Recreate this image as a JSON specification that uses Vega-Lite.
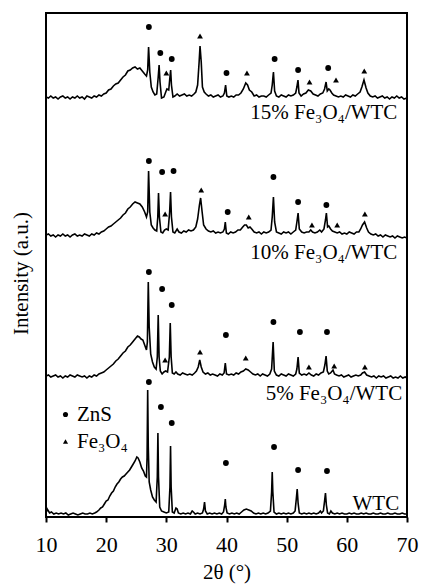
{
  "$schema": "https://vega.github.io/schema/vega-lite/v6.json",
  "width": 361,
  "height": 504,
  "autosize": {"type": "none"},
  "padding": {"left": 46, "top": 13, "right": 15, "bottom": 68},
  "background": "white",
  "config": {
    "font": "Liberation Serif, Times New Roman, serif",
    "view": {"stroke": "black", "strokeWidth": 2},
    "axis": {"grid": false, "labelFont": "Liberation Serif, Times New Roman, serif", "titleFont": "Liberation Serif, Times New Roman, serif", "titleFontWeight": "normal", "labelColor": "black", "titleColor": "black"},
    "legend": {"labelFont": "Liberation Serif, Times New Roman, serif"}
  },
  "datasets": {
    "traces": [
      {"s":"15","x":10.0,"y":420},{"s":"15","x":10.4,"y":419},{"s":"15","x":10.8,"y":421},{"s":"15","x":11.2,"y":419},{"s":"15","x":11.6,"y":420},{"s":"15","x":12.0,"y":418},{"s":"15","x":12.4,"y":420},{"s":"15","x":12.8,"y":421},{"s":"15","x":13.2,"y":419},{"s":"15","x":13.6,"y":420},{"s":"15","x":14.0,"y":418},{"s":"15","x":14.4,"y":420},{"s":"15","x":14.8,"y":419},{"s":"15","x":15.2,"y":421},{"s":"15","x":15.6,"y":419},{"s":"15","x":16.0,"y":420},{"s":"15","x":16.4,"y":418},{"s":"15","x":16.8,"y":421},{"s":"15","x":17.2,"y":420},{"s":"15","x":17.6,"y":419},{"s":"15","x":18.0,"y":421},{"s":"15","x":18.4,"y":420},{"s":"15","x":18.8,"y":422},{"s":"15","x":19.2,"y":421},{"s":"15","x":19.6,"y":423},{"s":"15","x":20.0,"y":424},{"s":"15","x":20.4,"y":427},{"s":"15","x":20.8,"y":428},{"s":"15","x":21.2,"y":431},{"s":"15","x":21.6,"y":433},{"s":"15","x":22.0,"y":434},{"s":"15","x":22.4,"y":437},{"s":"15","x":22.8,"y":440},{"s":"15","x":23.2,"y":442},{"s":"15","x":23.6,"y":446},{"s":"15","x":24.0,"y":447},{"s":"15","x":24.4,"y":449},{"s":"15","x":24.8,"y":450},{"s":"15","x":25.2,"y":448},{"s":"15","x":25.6,"y":449},{"s":"15","x":26.0,"y":446},{"s":"15","x":26.4,"y":443},{"s":"15","x":26.7,"y":441},{"s":"15","x":26.9,"y":447},{"s":"15","x":27.05,"y":470},{"s":"15","x":27.25,"y":445},{"s":"15","x":27.5,"y":430},{"s":"15","x":27.8,"y":425},{"s":"15","x":28.1,"y":422},{"s":"15","x":28.4,"y":423},{"s":"15","x":28.65,"y":440},{"s":"15","x":28.8,"y":452},{"s":"15","x":28.95,"y":435},{"s":"15","x":29.2,"y":419},{"s":"15","x":29.6,"y":420},{"s":"15","x":29.9,"y":425},{"s":"15","x":30.1,"y":428},{"s":"15","x":30.4,"y":427},{"s":"15","x":30.6,"y":440},{"s":"15","x":30.72,"y":447},{"s":"15","x":30.85,"y":432},{"s":"15","x":31.1,"y":420},{"s":"15","x":31.4,"y":421},{"s":"15","x":31.8,"y":423},{"s":"15","x":32.2,"y":421},{"s":"15","x":32.6,"y":422},{"s":"15","x":33.0,"y":423},{"s":"15","x":33.4,"y":421},{"s":"15","x":33.8,"y":422},{"s":"15","x":34.2,"y":421},{"s":"15","x":34.6,"y":423},{"s":"15","x":34.9,"y":425},{"s":"15","x":35.2,"y":432},{"s":"15","x":35.45,"y":455},{"s":"15","x":35.6,"y":471},{"s":"15","x":35.8,"y":455},{"s":"15","x":36.0,"y":430},{"s":"15","x":36.3,"y":425},{"s":"15","x":36.6,"y":423},{"s":"15","x":37.0,"y":421},{"s":"15","x":37.4,"y":422},{"s":"15","x":37.8,"y":420},{"s":"15","x":38.2,"y":421},{"s":"15","x":38.6,"y":422},{"s":"15","x":39.0,"y":420},{"s":"15","x":39.4,"y":421},{"s":"15","x":39.65,"y":424},{"s":"15","x":39.85,"y":432},{"s":"15","x":40.05,"y":421},{"s":"15","x":40.4,"y":420},{"s":"15","x":40.8,"y":421},{"s":"15","x":41.2,"y":420},{"s":"15","x":41.6,"y":422},{"s":"15","x":42.0,"y":422},{"s":"15","x":42.4,"y":424},{"s":"15","x":42.8,"y":428},{"s":"15","x":43.2,"y":434},{"s":"15","x":43.5,"y":432},{"s":"15","x":43.8,"y":427},{"s":"15","x":44.2,"y":425},{"s":"15","x":44.6,"y":421},{"s":"15","x":45.0,"y":422},{"s":"15","x":45.4,"y":420},{"s":"15","x":45.8,"y":421},{"s":"15","x":46.2,"y":421},{"s":"15","x":46.6,"y":420},{"s":"15","x":47.0,"y":422},{"s":"15","x":47.4,"y":424},{"s":"15","x":47.6,"y":432},{"s":"15","x":47.8,"y":445},{"s":"15","x":48.0,"y":426},{"s":"15","x":48.3,"y":421},{"s":"15","x":48.7,"y":420},{"s":"15","x":49.1,"y":422},{"s":"15","x":49.5,"y":421},{"s":"15","x":49.9,"y":420},{"s":"15","x":50.3,"y":422},{"s":"15","x":50.7,"y":421},{"s":"15","x":51.1,"y":422},{"s":"15","x":51.5,"y":424},{"s":"15","x":51.7,"y":430},{"s":"15","x":51.88,"y":437},{"s":"15","x":52.05,"y":424},{"s":"15","x":52.4,"y":421},{"s":"15","x":52.8,"y":423},{"s":"15","x":53.2,"y":424},{"s":"15","x":53.6,"y":427},{"s":"15","x":54.0,"y":426},{"s":"15","x":54.4,"y":423},{"s":"15","x":54.8,"y":422},{"s":"15","x":55.2,"y":421},{"s":"15","x":55.6,"y":423},{"s":"15","x":56.0,"y":424},{"s":"15","x":56.3,"y":428},{"s":"15","x":56.55,"y":435},{"s":"15","x":56.75,"y":426},{"s":"15","x":57.0,"y":428},{"s":"15","x":57.2,"y":427},{"s":"15","x":57.5,"y":424},{"s":"15","x":57.8,"y":422},{"s":"15","x":58.2,"y":421},{"s":"15","x":58.6,"y":420},{"s":"15","x":59.0,"y":421},{"s":"15","x":59.4,"y":420},{"s":"15","x":59.8,"y":422},{"s":"15","x":60.2,"y":421},{"s":"15","x":60.6,"y":420},{"s":"15","x":61.0,"y":422},{"s":"15","x":61.4,"y":421},{"s":"15","x":61.8,"y":423},{"s":"15","x":62.2,"y":425},{"s":"15","x":62.5,"y":430},{"s":"15","x":62.85,"y":437},{"s":"15","x":63.2,"y":429},{"s":"15","x":63.5,"y":424},{"s":"15","x":63.9,"y":421},{"s":"15","x":64.3,"y":420},{"s":"15","x":64.7,"y":421},{"s":"15","x":65.1,"y":419},{"s":"15","x":65.5,"y":420},{"s":"15","x":65.9,"y":421},{"s":"15","x":66.3,"y":419},{"s":"15","x":66.7,"y":420},{"s":"15","x":67.1,"y":418},{"s":"15","x":67.5,"y":420},{"s":"15","x":67.9,"y":419},{"s":"15","x":68.3,"y":421},{"s":"15","x":68.7,"y":419},{"s":"15","x":69.1,"y":420},{"s":"15","x":69.5,"y":418},{"s":"15","x":70.0,"y":419},

      {"s":"10","x":10.0,"y":282},{"s":"10","x":10.4,"y":283},{"s":"10","x":10.8,"y":281},{"s":"10","x":11.2,"y":282},{"s":"10","x":11.6,"y":280},{"s":"10","x":12.0,"y":282},{"s":"10","x":12.4,"y":281},{"s":"10","x":12.8,"y":283},{"s":"10","x":13.2,"y":281},{"s":"10","x":13.6,"y":282},{"s":"10","x":14.0,"y":280},{"s":"10","x":14.4,"y":282},{"s":"10","x":14.8,"y":283},{"s":"10","x":15.2,"y":281},{"s":"10","x":15.6,"y":282},{"s":"10","x":16.0,"y":281},{"s":"10","x":16.4,"y":283},{"s":"10","x":16.8,"y":282},{"s":"10","x":17.2,"y":281},{"s":"10","x":17.6,"y":283},{"s":"10","x":18.0,"y":282},{"s":"10","x":18.4,"y":284},{"s":"10","x":18.8,"y":283},{"s":"10","x":19.2,"y":285},{"s":"10","x":19.6,"y":286},{"s":"10","x":20.0,"y":288},{"s":"10","x":20.4,"y":290},{"s":"10","x":20.8,"y":291},{"s":"10","x":21.2,"y":293},{"s":"10","x":21.6,"y":295},{"s":"10","x":22.0,"y":297},{"s":"10","x":22.4,"y":299},{"s":"10","x":22.8,"y":302},{"s":"10","x":23.2,"y":304},{"s":"10","x":23.6,"y":308},{"s":"10","x":24.0,"y":310},{"s":"10","x":24.4,"y":313},{"s":"10","x":24.8,"y":315},{"s":"10","x":25.2,"y":314},{"s":"10","x":25.6,"y":313},{"s":"10","x":26.0,"y":310},{"s":"10","x":26.4,"y":305},{"s":"10","x":26.7,"y":300},{"s":"10","x":26.9,"y":305},{"s":"10","x":27.05,"y":346},{"s":"10","x":27.25,"y":305},{"s":"10","x":27.5,"y":292},{"s":"10","x":27.8,"y":289},{"s":"10","x":28.1,"y":287},{"s":"10","x":28.4,"y":286},{"s":"10","x":28.58,"y":300},{"s":"10","x":28.7,"y":324},{"s":"10","x":28.85,"y":300},{"s":"10","x":29.1,"y":285},{"s":"10","x":29.4,"y":284},{"s":"10","x":29.7,"y":287},{"s":"10","x":30.0,"y":288},{"s":"10","x":30.3,"y":287},{"s":"10","x":30.55,"y":305},{"s":"10","x":30.7,"y":325},{"s":"10","x":30.85,"y":300},{"s":"10","x":31.1,"y":285},{"s":"10","x":31.4,"y":284},{"s":"10","x":31.8,"y":288},{"s":"10","x":32.1,"y":285},{"s":"10","x":32.5,"y":284},{"s":"10","x":32.9,"y":286},{"s":"10","x":33.3,"y":285},{"s":"10","x":33.7,"y":287},{"s":"10","x":34.1,"y":286},{"s":"10","x":34.5,"y":287},{"s":"10","x":34.9,"y":290},{"s":"10","x":35.2,"y":298},{"s":"10","x":35.5,"y":312},{"s":"10","x":35.7,"y":319},{"s":"10","x":35.95,"y":305},{"s":"10","x":36.2,"y":292},{"s":"10","x":36.6,"y":288},{"s":"10","x":37.0,"y":286},{"s":"10","x":37.4,"y":285},{"s":"10","x":37.8,"y":286},{"s":"10","x":38.2,"y":284},{"s":"10","x":38.6,"y":285},{"s":"10","x":39.0,"y":284},{"s":"10","x":39.4,"y":285},{"s":"10","x":39.65,"y":288},{"s":"10","x":39.8,"y":295},{"s":"10","x":39.98,"y":284},{"s":"10","x":40.3,"y":283},{"s":"10","x":40.7,"y":285},{"s":"10","x":41.1,"y":284},{"s":"10","x":41.5,"y":285},{"s":"10","x":41.9,"y":287},{"s":"10","x":42.3,"y":287},{"s":"10","x":42.7,"y":290},{"s":"10","x":43.0,"y":292},{"s":"10","x":43.3,"y":292},{"s":"10","x":43.6,"y":289},{"s":"10","x":43.9,"y":290},{"s":"10","x":44.2,"y":288},{"s":"10","x":44.6,"y":285},{"s":"10","x":45.0,"y":284},{"s":"10","x":45.4,"y":285},{"s":"10","x":45.8,"y":283},{"s":"10","x":46.2,"y":285},{"s":"10","x":46.6,"y":284},{"s":"10","x":47.0,"y":285},{"s":"10","x":47.4,"y":287},{"s":"10","x":47.6,"y":300},{"s":"10","x":47.8,"y":320},{"s":"10","x":48.0,"y":295},{"s":"10","x":48.3,"y":285},{"s":"10","x":48.7,"y":284},{"s":"10","x":49.1,"y":283},{"s":"10","x":49.5,"y":285},{"s":"10","x":49.9,"y":284},{"s":"10","x":50.3,"y":285},{"s":"10","x":50.7,"y":283},{"s":"10","x":51.1,"y":285},{"s":"10","x":51.5,"y":287},{"s":"10","x":51.7,"y":295},{"s":"10","x":51.9,"y":304},{"s":"10","x":52.1,"y":288},{"s":"10","x":52.5,"y":285},{"s":"10","x":52.9,"y":284},{"s":"10","x":53.3,"y":285},{"s":"10","x":53.7,"y":285},{"s":"10","x":54.0,"y":287},{"s":"10","x":54.3,"y":285},{"s":"10","x":54.7,"y":284},{"s":"10","x":55.1,"y":285},{"s":"10","x":55.5,"y":287},{"s":"10","x":55.8,"y":285},{"s":"10","x":56.2,"y":288},{"s":"10","x":56.45,"y":297},{"s":"10","x":56.6,"y":304},{"s":"10","x":56.8,"y":290},{"s":"10","x":57.0,"y":291},{"s":"10","x":57.3,"y":288},{"s":"10","x":57.6,"y":286},{"s":"10","x":58.0,"y":285},{"s":"10","x":58.4,"y":284},{"s":"10","x":58.8,"y":285},{"s":"10","x":59.2,"y":283},{"s":"10","x":59.6,"y":284},{"s":"10","x":60.0,"y":283},{"s":"10","x":60.4,"y":285},{"s":"10","x":60.8,"y":284},{"s":"10","x":61.2,"y":283},{"s":"10","x":61.6,"y":285},{"s":"10","x":62.0,"y":285},{"s":"10","x":62.3,"y":288},{"s":"10","x":62.6,"y":292},{"s":"10","x":62.95,"y":295},{"s":"10","x":63.3,"y":289},{"s":"10","x":63.6,"y":285},{"s":"10","x":64.0,"y":283},{"s":"10","x":64.4,"y":282},{"s":"10","x":64.8,"y":283},{"s":"10","x":65.2,"y":281},{"s":"10","x":65.6,"y":282},{"s":"10","x":66.0,"y":280},{"s":"10","x":66.4,"y":282},{"s":"10","x":66.8,"y":281},{"s":"10","x":67.2,"y":280},{"s":"10","x":67.6,"y":281},{"s":"10","x":68.0,"y":279},{"s":"10","x":68.4,"y":281},{"s":"10","x":68.8,"y":280},{"s":"10","x":69.2,"y":279},{"s":"10","x":69.6,"y":280},{"s":"10","x":70.0,"y":279},

      {"s":"5","x":10.0,"y":141},{"s":"5","x":10.4,"y":142},{"s":"5","x":10.8,"y":140},{"s":"5","x":11.2,"y":141},{"s":"5","x":11.6,"y":142},{"s":"5","x":12.0,"y":140},{"s":"5","x":12.4,"y":141},{"s":"5","x":12.8,"y":139},{"s":"5","x":13.2,"y":141},{"s":"5","x":13.6,"y":140},{"s":"5","x":14.0,"y":142},{"s":"5","x":14.4,"y":141},{"s":"5","x":14.8,"y":140},{"s":"5","x":15.2,"y":142},{"s":"5","x":15.6,"y":141},{"s":"5","x":16.0,"y":140},{"s":"5","x":16.4,"y":141},{"s":"5","x":16.8,"y":139},{"s":"5","x":17.2,"y":141},{"s":"5","x":17.6,"y":140},{"s":"5","x":18.0,"y":142},{"s":"5","x":18.4,"y":141},{"s":"5","x":18.8,"y":143},{"s":"5","x":19.2,"y":144},{"s":"5","x":19.6,"y":145},{"s":"5","x":20.0,"y":147},{"s":"5","x":20.4,"y":149},{"s":"5","x":20.8,"y":151},{"s":"5","x":21.2,"y":153},{"s":"5","x":21.6,"y":156},{"s":"5","x":22.0,"y":158},{"s":"5","x":22.4,"y":161},{"s":"5","x":22.8,"y":164},{"s":"5","x":23.2,"y":166},{"s":"5","x":23.6,"y":170},{"s":"5","x":24.0,"y":172},{"s":"5","x":24.4,"y":175},{"s":"5","x":24.8,"y":178},{"s":"5","x":25.2,"y":181},{"s":"5","x":25.5,"y":180},{"s":"5","x":25.8,"y":178},{"s":"5","x":26.1,"y":177},{"s":"5","x":26.4,"y":172},{"s":"5","x":26.7,"y":167},{"s":"5","x":26.85,"y":175},{"s":"5","x":27.0,"y":235},{"s":"5","x":27.15,"y":190},{"s":"5","x":27.4,"y":163},{"s":"5","x":27.7,"y":155},{"s":"5","x":28.0,"y":150},{"s":"5","x":28.3,"y":148},{"s":"5","x":28.5,"y":160},{"s":"5","x":28.65,"y":202},{"s":"5","x":28.8,"y":160},{"s":"5","x":29.0,"y":146},{"s":"5","x":29.3,"y":143},{"s":"5","x":29.6,"y":145},{"s":"5","x":29.9,"y":146},{"s":"5","x":30.2,"y":145},{"s":"5","x":30.5,"y":160},{"s":"5","x":30.65,"y":194},{"s":"5","x":30.8,"y":160},{"s":"5","x":31.0,"y":144},{"s":"5","x":31.3,"y":143},{"s":"5","x":31.6,"y":145},{"s":"5","x":31.9,"y":143},{"s":"5","x":32.3,"y":142},{"s":"5","x":32.7,"y":144},{"s":"5","x":33.1,"y":143},{"s":"5","x":33.5,"y":142},{"s":"5","x":33.9,"y":143},{"s":"5","x":34.3,"y":142},{"s":"5","x":34.7,"y":144},{"s":"5","x":35.0,"y":146},{"s":"5","x":35.3,"y":150},{"s":"5","x":35.55,"y":157},{"s":"5","x":35.8,"y":150},{"s":"5","x":36.1,"y":145},{"s":"5","x":36.5,"y":143},{"s":"5","x":36.9,"y":144},{"s":"5","x":37.3,"y":142},{"s":"5","x":37.7,"y":143},{"s":"5","x":38.1,"y":142},{"s":"5","x":38.5,"y":141},{"s":"5","x":38.9,"y":143},{"s":"5","x":39.3,"y":142},{"s":"5","x":39.6,"y":144},{"s":"5","x":39.8,"y":154},{"s":"5","x":40.0,"y":143},{"s":"5","x":40.4,"y":142},{"s":"5","x":40.8,"y":143},{"s":"5","x":41.2,"y":142},{"s":"5","x":41.6,"y":144},{"s":"5","x":42.0,"y":143},{"s":"5","x":42.4,"y":145},{"s":"5","x":42.8,"y":146},{"s":"5","x":43.2,"y":148},{"s":"5","x":43.6,"y":147},{"s":"5","x":44.0,"y":145},{"s":"5","x":44.4,"y":143},{"s":"5","x":44.8,"y":142},{"s":"5","x":45.2,"y":143},{"s":"5","x":45.6,"y":141},{"s":"5","x":46.0,"y":143},{"s":"5","x":46.4,"y":142},{"s":"5","x":46.8,"y":141},{"s":"5","x":47.2,"y":143},{"s":"5","x":47.5,"y":148},{"s":"5","x":47.75,"y":175},{"s":"5","x":47.95,"y":146},{"s":"5","x":48.3,"y":142},{"s":"5","x":48.7,"y":141},{"s":"5","x":49.1,"y":143},{"s":"5","x":49.5,"y":142},{"s":"5","x":49.9,"y":141},{"s":"5","x":50.3,"y":143},{"s":"5","x":50.7,"y":142},{"s":"5","x":51.1,"y":141},{"s":"5","x":51.5,"y":143},{"s":"5","x":51.7,"y":148},{"s":"5","x":51.9,"y":160},{"s":"5","x":52.1,"y":144},{"s":"5","x":52.5,"y":142},{"s":"5","x":52.9,"y":143},{"s":"5","x":53.3,"y":142},{"s":"5","x":53.7,"y":144},{"s":"5","x":54.1,"y":142},{"s":"5","x":54.5,"y":141},{"s":"5","x":54.9,"y":143},{"s":"5","x":55.3,"y":142},{"s":"5","x":55.7,"y":144},{"s":"5","x":56.1,"y":145},{"s":"5","x":56.35,"y":152},{"s":"5","x":56.55,"y":161},{"s":"5","x":56.75,"y":146},{"s":"5","x":57.0,"y":143},{"s":"5","x":57.3,"y":144},{"s":"5","x":57.7,"y":147},{"s":"5","x":57.95,"y":143},{"s":"5","x":58.3,"y":142},{"s":"5","x":58.7,"y":141},{"s":"5","x":59.1,"y":142},{"s":"5","x":59.5,"y":140},{"s":"5","x":59.9,"y":141},{"s":"5","x":60.3,"y":142},{"s":"5","x":60.7,"y":140},{"s":"5","x":61.1,"y":141},{"s":"5","x":61.5,"y":142},{"s":"5","x":61.9,"y":141},{"s":"5","x":62.3,"y":142},{"s":"5","x":62.6,"y":144},{"s":"5","x":62.95,"y":145},{"s":"5","x":63.3,"y":142},{"s":"5","x":63.7,"y":141},{"s":"5","x":64.1,"y":140},{"s":"5","x":64.5,"y":141},{"s":"5","x":64.9,"y":139},{"s":"5","x":65.3,"y":141},{"s":"5","x":65.7,"y":140},{"s":"5","x":66.1,"y":141},{"s":"5","x":66.5,"y":139},{"s":"5","x":66.9,"y":140},{"s":"5","x":67.3,"y":141},{"s":"5","x":67.7,"y":139},{"s":"5","x":68.1,"y":140},{"s":"5","x":68.5,"y":139},{"s":"5","x":68.9,"y":141},{"s":"5","x":69.3,"y":139},{"s":"5","x":69.7,"y":140},{"s":"5","x":70.0,"y":139},

      {"s":"0","x":10.0,"y":4},{"s":"0","x":10.2,"y":8},{"s":"0","x":10.4,"y":6},{"s":"0","x":10.6,"y":4},{"s":"0","x":10.9,"y":5},{"s":"0","x":11.3,"y":3},{"s":"0","x":11.7,"y":4},{"s":"0","x":12.1,"y":3},{"s":"0","x":12.5,"y":4},{"s":"0","x":12.9,"y":3},{"s":"0","x":13.3,"y":4},{"s":"0","x":13.7,"y":2},{"s":"0","x":14.1,"y":3},{"s":"0","x":14.5,"y":4},{"s":"0","x":14.9,"y":3},{"s":"0","x":15.3,"y":2},{"s":"0","x":15.7,"y":3},{"s":"0","x":16.1,"y":4},{"s":"0","x":16.5,"y":3},{"s":"0","x":16.9,"y":3},{"s":"0","x":17.3,"y":4},{"s":"0","x":17.7,"y":3},{"s":"0","x":18.1,"y":4},{"s":"0","x":18.4,"y":5},{"s":"0","x":18.8,"y":7},{"s":"0","x":19.1,"y":9},{"s":"0","x":19.4,"y":10},{"s":"0","x":19.7,"y":13},{"s":"0","x":20.0,"y":16},{"s":"0","x":20.3,"y":17},{"s":"0","x":20.6,"y":21},{"s":"0","x":20.9,"y":24},{"s":"0","x":21.2,"y":26},{"s":"0","x":21.5,"y":30},{"s":"0","x":21.8,"y":33},{"s":"0","x":22.1,"y":35},{"s":"0","x":22.4,"y":38},{"s":"0","x":22.7,"y":40},{"s":"0","x":23.0,"y":41},{"s":"0","x":23.3,"y":43},{"s":"0","x":23.6,"y":45},{"s":"0","x":23.9,"y":47},{"s":"0","x":24.2,"y":50},{"s":"0","x":24.5,"y":53},{"s":"0","x":24.8,"y":56},{"s":"0","x":25.1,"y":60},{"s":"0","x":25.3,"y":59},{"s":"0","x":25.6,"y":55},{"s":"0","x":25.9,"y":49},{"s":"0","x":26.2,"y":46},{"s":"0","x":26.5,"y":41},{"s":"0","x":26.7,"y":40},{"s":"0","x":26.8,"y":60},{"s":"0","x":26.9,"y":127},{"s":"0","x":27.0,"y":70},{"s":"0","x":27.15,"y":35},{"s":"0","x":27.4,"y":27},{"s":"0","x":27.7,"y":20},{"s":"0","x":28.0,"y":17},{"s":"0","x":28.3,"y":15},{"s":"0","x":28.5,"y":40},{"s":"0","x":28.6,"y":84},{"s":"0","x":28.7,"y":40},{"s":"0","x":28.9,"y":10},{"s":"0","x":29.2,"y":6},{"s":"0","x":29.6,"y":5},{"s":"0","x":30.0,"y":4},{"s":"0","x":30.4,"y":5},{"s":"0","x":30.6,"y":30},{"s":"0","x":30.7,"y":71},{"s":"0","x":30.8,"y":30},{"s":"0","x":31.0,"y":5},{"s":"0","x":31.3,"y":4},{"s":"0","x":31.6,"y":9},{"s":"0","x":31.8,"y":8},{"s":"0","x":32.0,"y":4},{"s":"0","x":32.4,"y":3},{"s":"0","x":32.8,"y":4},{"s":"0","x":33.2,"y":3},{"s":"0","x":33.6,"y":4},{"s":"0","x":34.0,"y":3},{"s":"0","x":34.3,"y":6},{"s":"0","x":34.5,"y":5},{"s":"0","x":34.8,"y":3},{"s":"0","x":35.2,"y":4},{"s":"0","x":35.6,"y":3},{"s":"0","x":36.0,"y":4},{"s":"0","x":36.2,"y":8},{"s":"0","x":36.35,"y":15},{"s":"0","x":36.5,"y":6},{"s":"0","x":36.8,"y":3},{"s":"0","x":37.2,"y":4},{"s":"0","x":37.6,"y":3},{"s":"0","x":38.0,"y":4},{"s":"0","x":38.4,"y":3},{"s":"0","x":38.8,"y":4},{"s":"0","x":39.2,"y":3},{"s":"0","x":39.5,"y":5},{"s":"0","x":39.7,"y":12},{"s":"0","x":39.8,"y":18},{"s":"0","x":39.9,"y":10},{"s":"0","x":40.1,"y":4},{"s":"0","x":40.5,"y":3},{"s":"0","x":40.9,"y":4},{"s":"0","x":41.3,"y":3},{"s":"0","x":41.7,"y":4},{"s":"0","x":42.1,"y":3},{"s":"0","x":42.5,"y":5},{"s":"0","x":42.9,"y":7},{"s":"0","x":43.3,"y":8},{"s":"0","x":43.7,"y":7},{"s":"0","x":44.1,"y":6},{"s":"0","x":44.5,"y":4},{"s":"0","x":44.9,"y":3},{"s":"0","x":45.3,"y":4},{"s":"0","x":45.7,"y":3},{"s":"0","x":46.1,"y":4},{"s":"0","x":46.5,"y":3},{"s":"0","x":46.9,"y":4},{"s":"0","x":47.3,"y":6},{"s":"0","x":47.5,"y":25},{"s":"0","x":47.6,"y":45},{"s":"0","x":47.7,"y":25},{"s":"0","x":47.9,"y":5},{"s":"0","x":48.3,"y":3},{"s":"0","x":48.7,"y":4},{"s":"0","x":49.1,"y":3},{"s":"0","x":49.5,"y":4},{"s":"0","x":49.9,"y":3},{"s":"0","x":50.3,"y":4},{"s":"0","x":50.7,"y":3},{"s":"0","x":51.1,"y":4},{"s":"0","x":51.4,"y":6},{"s":"0","x":51.6,"y":18},{"s":"0","x":51.75,"y":28},{"s":"0","x":51.9,"y":14},{"s":"0","x":52.1,"y":4},{"s":"0","x":52.5,"y":3},{"s":"0","x":52.9,"y":4},{"s":"0","x":53.3,"y":3},{"s":"0","x":53.7,"y":4},{"s":"0","x":54.1,"y":3},{"s":"0","x":54.5,"y":4},{"s":"0","x":54.9,"y":3},{"s":"0","x":55.3,"y":4},{"s":"0","x":55.6,"y":6},{"s":"0","x":55.8,"y":4},{"s":"0","x":56.1,"y":6},{"s":"0","x":56.3,"y":16},{"s":"0","x":56.45,"y":24},{"s":"0","x":56.6,"y":12},{"s":"0","x":56.8,"y":4},{"s":"0","x":57.1,"y":3},{"s":"0","x":57.35,"y":6},{"s":"0","x":57.6,"y":4},{"s":"0","x":58.0,"y":3},{"s":"0","x":58.4,"y":4},{"s":"0","x":58.8,"y":3},{"s":"0","x":59.2,"y":4},{"s":"0","x":59.6,"y":3},{"s":"0","x":60.0,"y":3},{"s":"0","x":60.4,"y":4},{"s":"0","x":60.8,"y":3},{"s":"0","x":61.2,"y":4},{"s":"0","x":61.6,"y":3},{"s":"0","x":62.0,"y":3},{"s":"0","x":62.4,"y":4},{"s":"0","x":62.8,"y":3},{"s":"0","x":63.2,"y":4},{"s":"0","x":63.6,"y":3},{"s":"0","x":64.0,"y":3},{"s":"0","x":64.4,"y":4},{"s":"0","x":64.8,"y":3},{"s":"0","x":65.2,"y":3},{"s":"0","x":65.6,"y":4},{"s":"0","x":66.0,"y":3},{"s":"0","x":66.4,"y":3},{"s":"0","x":66.8,"y":4},{"s":"0","x":67.2,"y":3},{"s":"0","x":67.6,"y":3},{"s":"0","x":68.0,"y":4},{"s":"0","x":68.4,"y":3},{"s":"0","x":68.8,"y":3},{"s":"0","x":69.2,"y":4},{"s":"0","x":69.6,"y":3},{"s":"0","x":70.0,"y":3}
    ],
    "markers": [
      {"x":27.1,"y":490,"phase":"ZnS"},{"x":29.0,"y":464,"phase":"ZnS"},{"x":30.0,"y":444,"phase":"Fe₃O₄"},{"x":30.9,"y":458,"phase":"ZnS"},{"x":35.6,"y":481,"phase":"Fe₃O₄"},{"x":40.0,"y":444,"phase":"ZnS"},{"x":43.4,"y":444,"phase":"Fe₃O₄"},{"x":48.0,"y":458,"phase":"ZnS"},{"x":51.9,"y":447,"phase":"ZnS"},{"x":53.8,"y":435,"phase":"Fe₃O₄"},{"x":56.9,"y":449,"phase":"ZnS"},{"x":58.2,"y":437,"phase":"Fe₃O₄"},{"x":62.9,"y":446,"phase":"Fe₃O₄"},
      {"x":27.1,"y":356,"phase":"ZnS"},{"x":29.3,"y":345,"phase":"ZnS"},{"x":29.8,"y":303,"phase":"Fe₃O₄"},{"x":31.2,"y":346,"phase":"ZnS"},{"x":35.8,"y":327,"phase":"Fe₃O₄"},{"x":40.2,"y":305,"phase":"ZnS"},{"x":43.7,"y":300,"phase":"Fe₃O₄"},{"x":47.8,"y":340,"phase":"ZnS"},{"x":51.9,"y":315,"phase":"ZnS"},{"x":54.2,"y":292,"phase":"Fe₃O₄"},{"x":56.6,"y":312,"phase":"ZnS"},{"x":58.4,"y":292,"phase":"Fe₃O₄"},{"x":63.0,"y":303,"phase":"Fe₃O₄"},
      {"x":27.1,"y":245,"phase":"ZnS"},{"x":29.3,"y":228,"phase":"ZnS"},{"x":29.8,"y":157,"phase":"Fe₃O₄"},{"x":30.9,"y":212,"phase":"ZnS"},{"x":35.6,"y":165,"phase":"Fe₃O₄"},{"x":39.9,"y":182,"phase":"ZnS"},{"x":43.2,"y":159,"phase":"Fe₃O₄"},{"x":47.8,"y":195,"phase":"ZnS"},{"x":52.2,"y":185,"phase":"ZnS"},{"x":53.7,"y":150,"phase":"Fe₃O₄"},{"x":56.7,"y":185,"phase":"ZnS"},{"x":57.9,"y":151,"phase":"Fe₃O₄"},{"x":63.0,"y":150,"phase":"Fe₃O₄"},
      {"x":27.1,"y":135,"phase":"ZnS"},{"x":29.1,"y":110,"phase":"ZnS"},{"x":30.9,"y":94,"phase":"ZnS"},{"x":39.9,"y":54,"phase":"ZnS"},{"x":47.9,"y":70,"phase":"ZnS"},{"x":51.9,"y":47,"phase":"ZnS"},{"x":56.7,"y":46,"phase":"ZnS"}
    ],
    "labels": [
      {"x":68.4,"y":398,"text":"15%  Fe₃O₄/WTC"},
      {"x":68.4,"y":258,"text":"10%  Fe₃O₄/WTC"},
      {"x":69.2,"y":117,"text":"5%  Fe₃O₄/WTC"},
      {"x":68.7,"y":7,"text":"WTC"}
    ]
  },
  "encoding": {
    "x": {"field": "x", "type": "quantitative", "scale": {"domain": [10, 70], "nice": false},
      "axis": {"title": "2θ (°)", "values": [10,20,30,40,50,60,70], "labelFlush": false, "labelFont": "Liberation Serif, Times New Roman, serif", "titleFont": "Liberation Serif, Times New Roman, serif", "labelFontSize": 22, "titleFontSize": 21, "tickSize": 5, "tickWidth": 2, "tickColor": "black", "domain": false, "labelPadding": 12, "titleY": 44, "titleBaseline": "top"}},
    "y": {"field": "y", "type": "quantitative", "scale": {"domain": [0, 504], "nice": false},
      "axis": {"title": "Intensity (a.u.)", "labels": false, "ticks": false, "domain": false, "titleFont": "Liberation Serif, Times New Roman, serif", "titleFontSize": 21, "titleX": -15, "titleY": 260, "titleAngle": -90, "titleBaseline": "bottom", "titleAlign": "center"}}
  },
  "layer": [
    {"data": {"name": "traces"}, "mark": {"type": "line", "color": "black", "strokeWidth": 1.6, "clip": true},
      "encoding": {"detail": {"field": "s", "type": "nominal"}}},
    {"data": {"name": "markers"}, "mark": {"type": "point", "filled": true, "color": "black", "opacity": 1, "size": 34},
      "encoding": {
        "shape": {"field": "phase", "type": "nominal",
          "scale": {"domain": ["ZnS", "Fe₃O₄"], "range": ["circle", "triangle-up"]},
          "legend": {"title": null, "orient": "none", "legendX": 9, "legendY": 391, "padding": 0, "labelFont": "Liberation Serif, Times New Roman, serif", "labelFontSize": 21, "labelColor": "black", "symbolFillColor": "black", "symbolStrokeColor": "black", "symbolSize": 26, "labelOffset": 1, "rowPadding": 5, "symbolOpacity": 1}}
      }},
    {"data": {"name": "labels"}, "mark": {"type": "text", "align": "right", "baseline": "alphabetic", "fontSize": 21, "font": "Liberation Serif, Times New Roman, serif", "color": "black"},
      "encoding": {"text": {"field": "text", "type": "nominal"}}}
  ]
}
